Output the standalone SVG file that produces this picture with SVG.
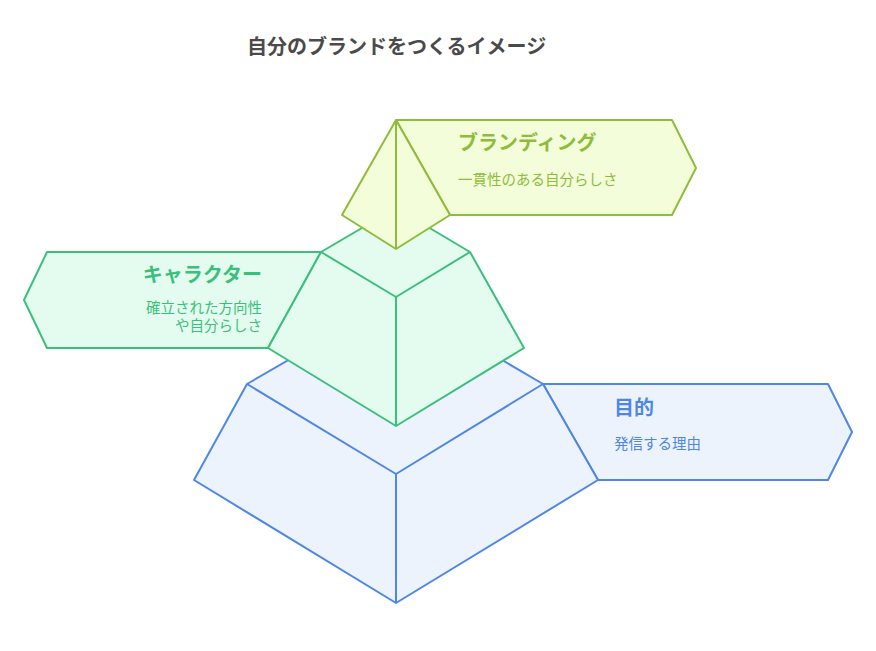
<svg xmlns="http://www.w3.org/2000/svg" width="876" height="651" viewBox="0 0 876 651">
<style>
text{font-family:"Noto Sans CJK JP","Noto Sans",sans-serif}
.b{fill:#edf3fd;stroke:#4f87e6;stroke-width:2;stroke-linejoin:round}
.g{fill:#e3fcef;stroke:#3dbf7c;stroke-width:2;stroke-linejoin:round}
.y{fill:#f3fdda;stroke:#8fbc3a;stroke-width:2;stroke-linejoin:round}
.t{font-size:20px;font-weight:bold}
.s{font-size:14.5px}
</style>
<rect width="876" height="651" fill="#fff"/>
<text x="247" y="54" font-size="20" font-weight="bold" fill="#4a4a4a">自分のブランドをつくるイメージ</text>
<g id="mokuteki">
<polygon class="b" points="543,384 828,384 852,432 828,480 598,480"/>
<polygon class="b" points="247,384 396,298 543,384 598,480 396,603 194,480"/>
<polyline class="b" fill="none" points="247,384 396,474 543,384"/>
<line class="b" x1="396" y1="474" x2="396" y2="603"/>
<text class="t" x="614" y="415" fill="#4f87e6">目的</text>
<text class="s" x="614" y="449" fill="#4f87e6">発信する理由</text>
</g>
<g id="character">
<polygon class="g" points="321,252 47,252 24,300 47,348 268,348"/>
<polygon class="g" points="321,252 396,208 470,252 524,348 396,426 268,348"/>
<polyline class="g" fill="none" points="321,252 396,297 470,252"/>
<line class="g" x1="396" y1="297" x2="396" y2="426"/>
<text class="t" x="262" y="282" text-anchor="end" fill="#3dbf7c">キャラクター</text>
<text class="s" x="262" y="313" text-anchor="end" fill="#3dbf7c">確立された方向性</text>
<text class="s" x="262" y="331" text-anchor="end" fill="#3dbf7c">や自分らしさ</text>
</g>
<g id="branding">
<polygon class="y" points="396,120 672,120 696,168 672,215 450,215"/>
<polygon class="y" points="396,120 450,215 396,249 342,215"/>
<line class="y" x1="396" y1="120" x2="396" y2="249"/>
<text class="t" x="458" y="150" fill="#8fbc3a">ブランディング</text>
<text class="s" x="458" y="185" fill="#8fbc3a">一貫性のある自分らしさ</text>
</g>
<g id="connectors"/>
</svg>
